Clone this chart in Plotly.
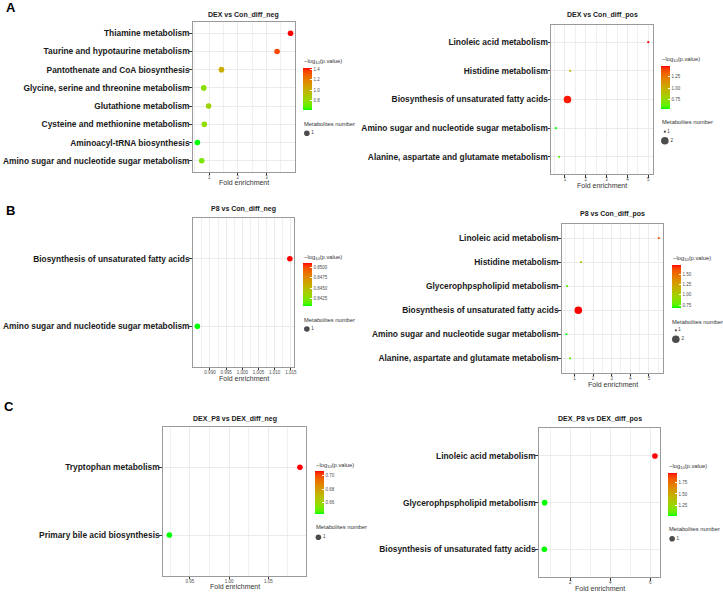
import plotly.graph_objects as go

W, H = 723, 592
FONT = "Liberation Sans, Arial, sans-serif"

# ------------------------- DATA -------------------------
# Pathways listed bottom -> top as they appear on each y axis
a1_title = "DEX vs Con_diff_neg"
a1_pathways = ["Amino sugar and nucleotide sugar metabolism", "Aminoacyl-tRNA biosynthesis",
               "Cysteine and methionine metabolism", "Glutathione metabolism",
               "Glycine, serine and threonine metabolism", "Pantothenate and CoA biosynthesis",
               "Taurine and hypotaurine metabolism", "Thiamine metabolism"]
a1_fold = [0.74, 0.59, 0.83, 0.98, 0.81, 1.43, 3.37, 3.84]
a1_logp = [0.74, 0.62, 0.80, 0.84, 0.78, 1.02, 1.35, 1.43]
a1_count = [1, 1, 1, 1, 1, 1, 1, 1]
a1_xticks = [1, 2, 3]
a1_cticks = [0.8, 1.0, 1.2, 1.4]

a2_title = "DEX vs Con_diff_pos"
a2_pathways = ["Alanine, aspartate and glutamate metabolism", "Amino sugar and nucleotide sugar metabolism",
               "Biosynthesis of unsaturated fatty acids", "Histidine metabolism", "Linoleic acid metabolism"]
a2_fold = [0.72, 0.56, 1.12, 1.25, 5.00]
a2_logp = [0.64, 0.55, 1.46, 0.94, 1.48]
a2_count = [1, 1, 2, 1, 1]
a2_xticks = [1, 2, 3, 4, 5]
a2_cticks = [0.75, 1.00, 1.25]

b1_title = "P8 vs Con_diff_neg"
b1_pathways = ["Amino sugar and nucleotide sugar metabolism", "Biosynthesis of unsaturated fatty acids"]
b1_fold = [0.9861, 1.0147]
b1_logp = [0.8405, 0.8511]
b1_count = [1, 1]
b1_xticks = [0.990, 0.995, 1.000, 1.005, 1.010, 1.015]
b1_cticks = [0.8425, 0.8450, 0.8475, 0.8500]

b2_title = "P8 vs Con_diff_pos"
b2_pathways = ["Alanine, aspartate and glutamate metabolism", "Amino sugar and nucleotide sugar metabolism",
               "Biosynthesis of unsaturated fatty acids", "Glycerophpspholipid metabolism",
               "Histidine metabolism", "Linoleic acid metabolism"]
b2_fold = [0.77, 0.57, 1.21, 0.61, 1.36, 5.53]
b2_logp = [0.75, 0.685, 1.73, 0.77, 1.05, 1.60]
b2_count = [1, 1, 2, 1, 1, 1]
b2_xticks = [1, 2, 3, 4, 5]
b2_cticks = [0.75, 1.00, 1.25, 1.50]

c1_title = "DEX_P8 vs DEX_diff_neg"
c1_pathways = ["Primary bile acid biosynthesis", "Tryptophan metabolism"]
c1_fold = [0.9237, 1.0903]
c1_logp = [0.6424, 0.7066]
c1_count = [1, 1]
c1_xticks = [0.95, 1.00, 1.05]
c1_cticks = [0.66, 0.68, 0.70]

c2_title = "DEX_P8 vs DEX_diff_pos"
c2_pathways = ["Biosynthesis of unsaturated fatty acids", "Glycerophpspholipid metabolism",
               "Linoleic acid metabolism"]
c2_fold = [0.70, 0.715, 6.23]
c2_logp = [1.02, 1.02, 1.97]
c2_count = [1, 1, 1]
c2_xticks = [2, 4, 6]
c2_cticks = [1.25, 1.50, 1.75]

panel_letters = ["A", "B", "C"]

# ------------------------- LAYOUT SPEC (pixels) -------------------------
specs = [
    dict(box=(193.3, 296.0, 22.3, 171.7), title_y=14.7, xt_y=182.7, xfmt=".0f", cfmt=".1f",
         cb=(304.0, 67.7, 110.0), cbt_y=61.7, lt=(304.0, 124.0), dot=(307.7, 133.3)),
    dict(box=(552.7, 654.7, 25.0, 174.0), title_y=14.7, xt_y=185.3, xfmt=".0f", cfmt=".2f",
         cb=(662.7, 66.0, 109.0), cbt_y=60.0, lt=(662.7, 122.3), dot=(666.7, 131.7)),
    dict(box=(193.3, 295.3, 218.3, 366.7), title_y=209.3, xt_y=378.7, xfmt=".3f", cfmt=".4f",
         cb=(304.0, 263.3, 306.0), cbt_y=257.0, lt=(304.0, 320.0), dot=(307.7, 329.0)),
    dict(box=(563.3, 665.3, 223.7, 372.7), title_y=214.3, xt_y=384.0, xfmt=".0f", cfmt=".2f",
         cb=(674.0, 264.7, 307.7), cbt_y=258.3, lt=(673.3, 321.7), dot=(677.7, 330.3)),
    dict(box=(163.3, 307.3, 426.7, 575.7), title_y=418.7, xt_y=586.7, xfmt=".2f", cfmt=".2f",
         cb=(316.0, 471.3, 514.0), cbt_y=465.7, lt=(316.0, 526.7), dot=(319.3, 537.3)),
    dict(box=(540.3, 662.3, 428.0, 577.3), title_y=419.3, xt_y=588.7, xfmt=".0f", cfmt=".2f",
         cb=(670.0, 472.7, 515.7), cbt_y=466.7, lt=(670.0, 529.3), dot=(674.0, 538.7)),
]
letter_pos = [(4.0, 8.0), (4.0, 210.0), (1.7, 406.7)]

data_sets = [
    (a1_title, a1_pathways, a1_fold, a1_logp, a1_count, a1_xticks, a1_cticks),
    (a2_title, a2_pathways, a2_fold, a2_logp, a2_count, a2_xticks, a2_cticks),
    (b1_title, b1_pathways, b1_fold, b1_logp, b1_count, b1_xticks, b1_cticks),
    (b2_title, b2_pathways, b2_fold, b2_logp, b2_count, b2_xticks, b2_cticks),
    (c1_title, c1_pathways, c1_fold, c1_logp, c1_count, c1_xticks, c1_cticks),
    (c2_title, c2_pathways, c2_fold, c2_logp, c2_count, c2_xticks, c2_cticks),
]


# ------------------------- colour ramp green -> red in CIELAB -------------------------
def _lin(c):
    c = c / 255.0
    return c / 12.92 if c <= 0.04045 else ((c + 0.055) / 1.055) ** 2.4


def _gam(c):
    c = 12.92 * c if c <= 0.0031308 else 1.055 * c ** (1 / 2.4) - 0.055
    return int(round(min(max(c, 0.0), 1.0) * 255))


XN, YN, ZN = 0.95047, 1.0, 1.08883


def rgb2lab(r, g, b):
    R, G, B = _lin(r), _lin(g), _lin(b)
    X = 0.4124 * R + 0.3576 * G + 0.1805 * B
    Y = 0.2126 * R + 0.7152 * G + 0.0722 * B
    Z = 0.0193 * R + 0.1192 * G + 0.9505 * B

    def f(t):
        return t ** (1 / 3) if t > 216 / 24389 else (24389 / 27 * t + 16) / 116
    fx, fy, fz = f(X / XN), f(Y / YN), f(Z / ZN)
    return 116 * fy - 16, 500 * (fx - fy), 200 * (fy - fz)


def lab2rgb(L, a, b):
    fy = (L + 16) / 116
    fx = fy + a / 500
    fz = fy - b / 200

    def finv(t):
        return t ** 3 if t ** 3 > 216 / 24389 else (116 * t - 16) / (24389 / 27)
    X, Y, Z = XN * finv(fx), YN * finv(fy), ZN * finv(fz)
    R = 3.2406 * X - 1.5372 * Y - 0.4986 * Z
    G = -0.9689 * X + 1.8758 * Y + 0.0415 * Z
    B = 0.0557 * X - 0.2040 * Y + 1.0570 * Z
    return "rgb(%d,%d,%d)" % (_gam(R), _gam(G), _gam(B))


lab_lo = rgb2lab(0, 255, 0)
lab_hi = rgb2lab(255, 0, 0)
NSTOP = 21
CSCALE = []
for k in range(NSTOP):
    t = k / (NSTOP - 1)
    L = lab_lo[0] + t * (lab_hi[0] - lab_lo[0])
    A = lab_lo[1] + t * (lab_hi[1] - lab_lo[1])
    Bb = lab_lo[2] + t * (lab_hi[2] - lab_lo[2])
    CSCALE.append([t, lab2rgb(L, A, Bb)])


def size_map(counts):
    lo, hi = min(counts), max(counts)
    dmin, dmax = 2.2, 7.6
    out = []
    for c in counts:
        t = 0.5 if hi == lo else (c - lo) / (hi - lo)
        out.append(((1 - t) * dmin ** 2 + t * dmax ** 2) ** 0.5)
    return out


def px_x(p):
    return p / W


def px_y(p):
    return 1 - p / H


fig = go.Figure()
annotations = []
layout = dict(
    width=W, height=H, autosize=False,
    margin=dict(l=0, r=0, t=0, b=0),
    paper_bgcolor="white", plot_bgcolor="white",
    font=dict(family=FONT, color="#000000"),
    showlegend=False,
)

for i, ((title, paths, fold, logp, count, xticks, cticks), sp) in enumerate(zip(data_sets, specs)):
    n = i + 1
    sfx = "" if n == 1 else str(n)
    x0, x1, y0, y1 = sp["box"]
    sizes = size_map(count)
    ca = "coloraxis" + sfx

    fig.add_trace(go.Scatter(
        x=fold, y=paths, mode="markers",
        marker=dict(size=sizes, color=logp, coloraxis=ca, line=dict(width=0), opacity=1),
        xaxis="x" + sfx, yaxis="y" + sfx, showlegend=False, hoverinfo="x+y",
    ))

    lo, hi = min(fold), max(fold)
    span = hi - lo
    xr = [lo - 0.05 * span, hi + 0.05 * span]
    step = xticks[1] - xticks[0]
    minors = [xticks[0] - step / 2] + [v + step / 2 for v in xticks]
    minors = [m for m in minors if xr[0] <= m <= xr[1]]

    layout["xaxis" + sfx] = dict(
        domain=[px_x(x0), px_x(x1)], anchor="y" + sfx, range=xr,
        tickmode="array", tickvals=xticks, tickformat=sp["xfmt"],
        tickfont=dict(size=4.5, color="#4D4D4D", family=FONT),
        ticks="outside", ticklen=2.5, tickwidth=0.8, tickcolor="#333333",
        ticklabelstandoff=-2,
        showgrid=True, gridcolor="#EBEBEB", gridwidth=1,
        minor=dict(tickmode="array", tickvals=minors, showgrid=True, gridcolor="#F0F0F0", gridwidth=0.6, ticks=""),
        zeroline=False, showline=True, mirror=True, linecolor="#9A9A9A", linewidth=1,
        fixedrange=True,
    )
    layout["yaxis" + sfx] = dict(
        domain=[px_y(y1), px_y(y0)], anchor="x" + sfx,
        type="category", categoryorder="array", categoryarray=paths,
        range=[-0.6, len(paths) - 0.4],
        tickfont=dict(size=8.4, color="#1A1A1A", family=FONT, weight="bold"),
        ticks="outside", ticklen=2.5, tickwidth=0.8, tickcolor="#333333",
        ticklabelstandoff=-2,
        showgrid=True, gridcolor="#EBEBEB", gridwidth=1,
        zeroline=False, showline=True, mirror=True, linecolor="#9A9A9A", linewidth=1,
        fixedrange=True,
    )

    cbx, cbt, cbb = sp["cb"]
    layout[ca] = dict(
        colorscale=CSCALE, cmin=min(logp), cmax=max(logp),
        colorbar=dict(
            x=px_x(cbx), xanchor="left", xref="paper",
            y=px_y(cbt), yanchor="top", yref="paper",
            lenmode="pixels", len=cbb - cbt, thicknessmode="pixels", thickness=8.5,
            xpad=0, ypad=0, outlinewidth=0,
            tickmode="array", tickvals=cticks, tickformat=sp["cfmt"],
            ticks="inside", ticklen=2, tickcolor="white", tickwidth=0.8,
            tickfont=dict(size=4.5, color="#4D4D4D", family=FONT),
        ),
    )

    # size legend drawn as a tiny scatter panel
    m = 6 + n
    uniq = sorted(set(count))
    usz = size_map(uniq) if len(uniq) > 1 else size_map(count)[:1]
    dx, dy = sp["dot"]
    k = len(uniq)
    fig.add_trace(go.Scatter(
        x=[0] * k, y=list(range(k)), mode="markers+text",
        text=[str(u) for u in uniq], textposition="middle right",
        textfont=dict(size=4.5, color="#333333", family=FONT),
        marker=dict(size=usz, color="black", line=dict(width=0)),
        xaxis="x%d" % m, yaxis="y%d" % m, showlegend=False, hoverinfo="skip", cliponaxis=False,
    ))
    layout["xaxis%d" % m] = dict(domain=[px_x(dx - 6), px_x(dx + 24)], range=[-6, 24],
                                 visible=False, anchor="y%d" % m, fixedrange=True)
    layout["yaxis%d" % m] = dict(domain=[px_y(dy + 4.5 + 9 * (k - 1)), px_y(dy - 4.5)],
                                 range=[k - 0.5, -0.5], visible=False, anchor="x%d" % m, fixedrange=True)

    # texts
    annotations.append(dict(text="<b>%s</b>" % title, x=px_x((x0 + x1) / 2), y=px_y(sp["title_y"]),
                            xref="paper", yref="paper", xanchor="center", yanchor="middle",
                            showarrow=False, font=dict(size=7, color="#1A1A1A", family=FONT)))
    annotations.append(dict(text="Fold enrichment", x=px_x((x0 + x1) / 2), y=px_y(sp["xt_y"]),
                            xref="paper", yref="paper", xanchor="center", yanchor="middle",
                            showarrow=False, font=dict(size=7, color="#333333", family=FONT)))
    annotations.append(dict(text="\u2212log<sub>10</sub>(p.value)", x=px_x(cbx - 1), y=px_y(sp["cbt_y"]),
                            xref="paper", yref="paper", xanchor="left", yanchor="middle",
                            showarrow=False, font=dict(size=5.8, color="#333333", family=FONT)))
    annotations.append(dict(text="Metabolites number", x=px_x(sp["lt"][0] - 1), y=px_y(sp["lt"][1]),
                            xref="paper", yref="paper", xanchor="left", yanchor="middle",
                            showarrow=False, font=dict(size=5.8, color="#333333", family=FONT)))

for letter, (lx, ly) in zip(panel_letters, letter_pos):
    annotations.append(dict(text="<b>%s</b>" % letter, x=px_x(lx), y=px_y(ly),
                            xref="paper", yref="paper", xanchor="left", yanchor="middle",
                            showarrow=False, font=dict(size=13, color="#000000", family=FONT)))

layout["annotations"] = annotations
fig.update_layout(**layout)
fig.write_html("out.html", config=dict(displayModeBar=False),
               post_script="document.body.style.margin='0';document.body.style.overflow='hidden';")
